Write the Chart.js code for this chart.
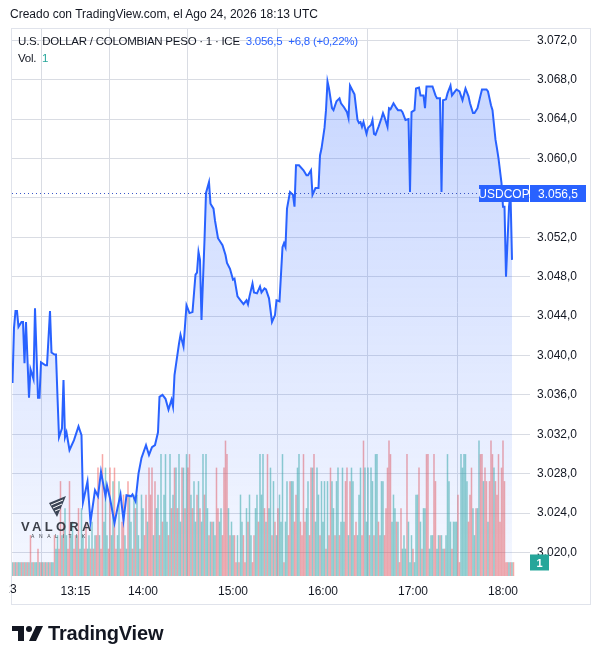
<!DOCTYPE html>
<html>
<head>
<meta charset="utf-8">
<script src="https://cdn.jsdelivr.net/npm/chart.js@4.4.1/dist/chart.umd.min.js"></script>
<style>
  html, body { margin: 0; padding: 0; background: #fff; }
  body { width: 598px; height: 664px; position: relative; overflow: hidden;
         font-family: 'Liberation Sans', Arial, sans-serif; color: #131722; }
  #frame { position: absolute; left: 11px; top: 28px; width: 578px; height: 575px; border: 1px solid #e0e3eb; }
  #wrap { position: absolute; left: 0; top: 0; width: 598px; height: 664px; }
  .stamp { position: absolute; left: 10px; top: 7px; font-size: 12px; }
  .legend { position: absolute; left: 18px; font-size: 11.5px; letter-spacing: -0.25px; white-space: nowrap; }
  .blue { color: #2962ff; }
  .teal { color: #26a69a; }
  .valora { position: absolute; left: 21px; top: 519px; font-size: 13px; font-weight: bold;
            letter-spacing: 3.3px; color: #3b3f48; }
  .analitik { position: absolute; left: 31px; top: 533px; font-size: 5px; letter-spacing: 4.6px; color: #3b3f48; }
  .brand { position: absolute; left: 48px; top: 622px; font-size: 20px; font-weight: bold; color: #131722; letter-spacing: -0.2px; }
</style>
</head>
<body>
<div id="frame"></div>
<div id="wrap"><canvas id="myChart"></canvas></div>

<div class="stamp">Creado con TradingView.com, el Ago 24, 2026 18:13 UTC</div>
<div class="legend" style="top:35px">U.S. DOLLAR / COLOMBIAN PESO · 1 · ICE&nbsp; <span class="blue">3.056,5&nbsp; +6,8 (+0,22%)</span></div>
<div class="legend" style="top:52px">Vol.&nbsp; <span class="teal">1</span></div>

<svg style="position:absolute;left:0;top:0" width="598" height="664">
  <!-- valora mark -->
  <polygon points="49,503 66,496 57,517" fill="#3b4556"/>
  <line x1="51" y1="505" x2="63" y2="500" stroke="#fff" stroke-width="1"/>
  <line x1="53" y1="508" x2="62" y2="504" stroke="#fff" stroke-width="1"/>
  <line x1="55" y1="511" x2="60" y2="509" stroke="#fff" stroke-width="1"/>
  <!-- tradingview mark -->
  <rect x="12" y="626" width="12" height="5" fill="#131722"/>
  <rect x="18" y="626" width="6" height="15" fill="#131722"/>
  <circle cx="29" cy="629" r="3" fill="#131722"/>
  <polygon points="36,626 43,626 36,641 29,641" fill="#131722"/>
</svg>
<div class="valora">VALORA</div>
<div class="analitik">ANALITIK</div>
<div class="brand">TradingView</div>

<script>
/* ~~~~~~~~~~ DATA ~~~~~~~~~~*/

// one bar per minute, index 0 = first bar on the left
const xTickIdx = [42, 87, 147, 207, 267, 327];
const xTickLabels = ['13:15', '14:00', '15:00', '16:00', '17:00', '18:00'];
const xEdgeIdx = -1.7;
const xEdgeLabel = '23';

const yTicks = [3020, 3024, 3028, 3032, 3036, 3040, 3044, 3048, 3052, 3056, 3060, 3064, 3068, 3072];
const yTickHidden = [3056];
const lastPrice = 3056.5;
const lastVolume = 1;
const symbol = 'USDCOP';

const priceIdx = [
  0, 1, 2, 3, 4, 6, 7, 8, 9, 11, 12, 14, 15, 17, 18, 19, 22, 23, 25, 26,
  28, 29, 30, 31, 33, 34, 35, 36, 38, 41, 44, 46, 47, 50, 52, 55, 57, 59, 62, 63,
  65, 68, 70, 72, 74, 76, 79, 80, 82, 84, 86, 89, 91, 93, 95, 97, 98, 100, 102, 104,
  106, 107, 108, 111, 112, 114, 116, 118, 120, 122, 123, 124, 125, 126, 128, 129, 131, 132, 134, 135,
  137, 140, 142, 143, 145, 147, 148, 150, 152, 154, 156, 157, 158, 160, 161, 163, 165, 166, 168, 169,
  171, 173, 175, 176, 178, 180, 181, 182, 183, 185, 187, 188, 189, 191, 194, 196, 197, 199, 200, 202,
  204, 205, 206, 208, 209, 210, 211, 213, 214, 216, 218, 219, 221, 223, 224, 225, 227, 228, 230, 231,
  232, 233, 234, 236, 237, 239, 240, 241, 242, 244, 246, 247, 248, 250, 251, 252, 254, 256, 257, 259,
  260, 262, 264, 265, 266, 268, 269, 271, 272, 274, 275, 276, 280, 282, 283, 285, 286, 287, 289, 290,
  292, 293, 295, 296, 298, 300, 302, 304, 305, 307, 308, 310, 312, 313, 316, 317, 319, 320, 322, 323,
  324, 326, 327, 328, 329, 331, 332, 333
];
const priceVal = [
  3037.2, 3042.8, 3044.5, 3044.5, 3042.9, 3043.4, 3043.4, 3039.2, 3043.4, 3035.7, 3038.6, 3037.6, 3044.8, 3035.7, 3035.7, 3039.3, 3039.0, 3039.0, 3044.5, 3040.3,
  3040.1, 3040.1, 3035.8, 3031.7, 3032.6, 3037.5, 3031.7, 3032.2, 3030.4, 3031.4, 3032.8, 3031.9, 3025.1, 3027.2, 3023.1, 3026.3, 3025.7, 3028.2, 3025.7, 3026.8,
  3025.5, 3023.0, 3024.5, 3025.9, 3023.3, 3025.8, 3025.7, 3025.9, 3025.2, 3028.0, 3029.6, 3030.9, 3029.9, 3030.7, 3030.9, 3032.2, 3035.8, 3036.0, 3035.6, 3034.5,
  3035.5, 3034.8, 3038.0, 3041.2, 3042.1, 3040.9, 3045.1, 3044.3, 3044.4, 3048.2, 3048.4, 3050.5, 3049.7, 3043.6, 3051.7, 3056.5, 3057.6, 3055.4, 3054.9, 3053.7,
  3051.9, 3051.2, 3050.2, 3049.4, 3048.8, 3047.7, 3047.8, 3046.0, 3045.6, 3045.2, 3045.6, 3045.2, 3046.0, 3047.3, 3046.4, 3046.3, 3047.0, 3046.4, 3046.8, 3046.7,
  3045.8, 3043.4, 3044.1, 3045.6, 3045.5, 3051.0, 3051.4, 3051.0, 3054.9, 3056.6, 3056.3, 3055.1, 3059.3, 3059.3, 3058.8, 3058.3, 3058.3, 3058.8, 3056.3, 3057.0,
  3057.0, 3060.3, 3061.0, 3063.1, 3064.9, 3067.8, 3067.1, 3065.1, 3064.9, 3065.8, 3066.1, 3065.6, 3065.2, 3064.7, 3064.1, 3067.4, 3066.8, 3066.5, 3063.9, 3063.6,
  3063.7, 3063.2, 3063.7, 3062.5, 3063.1, 3063.4, 3063.9, 3062.5, 3062.4, 3063.2, 3064.1, 3064.6, 3064.2, 3063.2, 3065.1, 3065.0, 3065.6, 3065.1, 3064.9, 3064.9,
  3064.7, 3063.9, 3064.0, 3056.6, 3064.7, 3064.9, 3067.1, 3067.2, 3066.4, 3066.4, 3065.1, 3067.3, 3067.3, 3066.4, 3066.1, 3066.1, 3056.6, 3065.9, 3066.0, 3066.6,
  3067.4, 3066.4, 3066.8, 3067.0, 3066.8, 3065.9, 3067.1, 3066.3, 3065.6, 3064.6, 3064.6, 3065.1, 3066.4, 3067.0, 3067.0, 3066.8, 3065.4, 3064.9, 3061.9, 3061.0,
  3060.0, 3057.5, 3055.1, 3055.1, 3048.0, 3055.1, 3056.5, 3049.7
];

// volume per minute bar, from index 0
const volVal = [
  1, 1, 1, 1, 1, 1, 1, 1, 1, 1,   1, 1, 3, 1, 1, 1, 1, 2, 1, 1,
  1, 1, 1, 1, 1, 1, 1, 1, 3, 2,   3, 2, 7, 3, 4, 5, 3, 2, 7, 3,
  4, 2, 3, 3, 5, 2, 5, 3, 2, 4,   2, 3, 2, 4, 2, 3, 3, 8, 3, 2,
  9, 4, 8, 3, 2, 8, 3, 7, 8, 2,   3, 7, 2, 4, 6, 3, 2, 7, 6, 4,
  2, 6, 5, 6, 3, 2, 6, 5, 3, 6,   4, 8, 6, 8, 3, 7, 5, 6, 3, 9,
  4, 6, 9, 4, 3, 9, 5, 6, 8, 8,   5, 9, 4, 8, 8, 5, 9, 8, 9, 6,
  5, 7, 4, 6, 7, 5, 4, 9, 6, 9,   5, 3, 4, 4, 4, 3, 8, 5, 4, 5,
  3, 8, 10, 9, 5, 3, 4, 3, 3, 1,  3, 1, 6, 4, 3, 1, 5, 4, 6, 3,
  1, 3, 5, 6, 4, 9, 6, 9, 5, 4,   9, 5, 8, 3, 7, 4, 3, 5, 6, 4,
  9, 1, 4, 7, 3, 7, 7, 7, 4, 6,   8, 9, 4, 3, 9, 4, 5, 7, 3, 8,
  8, 9, 4, 8, 6, 3, 7, 4, 7, 2,   7, 3, 8, 7, 5, 3, 7, 8, 3, 4,
  8, 4, 7, 8, 3, 7, 8, 7, 3, 4,   3, 6, 8, 3, 10, 8, 4, 8, 3, 8,
  7, 3, 9, 9, 4, 3, 7, 7, 3, 5,   8, 10, 9, 4, 6, 5, 4, 4, 1, 5,
  2, 3, 2, 9, 4, 1, 3, 2, 1, 6,   6, 8, 4, 2, 5, 5, 9, 9, 2, 3,
  3, 9, 7, 2, 3, 3, 3, 2, 2, 3,   9, 7, 4, 2, 4, 4, 4, 6, 1, 9,
  8, 9, 9, 7, 4, 6, 8, 5, 3, 5,   5, 10, 9, 9, 7, 8, 7, 4, 7, 10,
  9, 8, 7, 6, 9, 4, 8, 10, 7, 1,  1, 1, 1, 1, 1
];
// u = minute closed up (teal), d = closed down (red)
const volDir = [
  'u d u d u u d u d u', 'd u d u d u u d u d', 'u d u d u d u u d u', 'u d d u d u u d d u',
  'u d d u d u u u d d', 'u u d u d u d d u d', 'd u u u d d u u d d', 'u u d d d u u d u u',
  'd u d u u d u u d d', 'u d d d u d u u d u', 'd u u u d u d u d u', 'd u u d u d u d d u',
  'd u u d u d u u d u', 'u d u d u u d d u u', 'd d d d u d u u d d', 'u d u u d d u d u u',
  'd d u u d u u u d u', 'd u u d u d u d u u', 'u d u u d d u u d d', 'u u d d d d u u d d',
  'u d u u u d u u u d', 'u d d u u d u u d u', 'u u d d u d u u d d', 'u u u d d u u u d u',
  'u d u u d u u u d d', 'd d d u u u d u d d', 'u u u d u u u d u u', 'u d u d u u d d u u',
  'u d d u u d u u d u', 'u u u d u u u d d u', 'u u u u d d d u u d', 'u u d d u d d u d d',
  'd u d d d d d d d d', 'd u d u d'
].join(' ').split(' ');

/* ~~~~~~~~~~ HELPERS ~~~~~~~~~~*/

const fmtPrice = (v) => {
  const parts = v.toFixed(1).split('.');
  return parts[0].replace(/\B(?=(\d{3})+(?!\d))/g, '.') + ',' + parts[1];
};

const GRID = '#d9dce3';
const TEXT = '#131722';
const BLUE = '#2962ff';
const UP = 'rgba(38, 166, 154, 0.5)';
const DOWN = 'rgba(239, 83, 80, 0.5)';

const linePoints = priceIdx.map((x, i) => ({ x: x, y: priceVal[i] }));
const volPoints = volVal.map((v, i) => ({ x: i, y: v }));
const volColors = volDir.map((d) => (d === 'u' ? UP : DOWN));

/* ~~~~~~~~~~ OVERLAY PLUGIN ~~~~~~~~~~*/

const tvOverlay = {
  id: 'tvOverlay',
  afterDraw(chart) {
    const { ctx, chartArea, scales } = chart;
    const y = Math.round(scales.y.getPixelForValue(lastPrice)) + 0.5;
    const boxH = 17;
    const symW = 51;
    const priceW = 56;
    ctx.save();

    // dotted last price line
    ctx.strokeStyle = '#3a57c8';
    ctx.lineWidth = 1;
    ctx.setLineDash([1, 3]);
    ctx.beginPath();
    ctx.moveTo(chartArea.left, y);
    ctx.lineTo(chartArea.right - symW, y);
    ctx.stroke();
    ctx.setLineDash([]);

    // symbol and price boxes
    ctx.fillStyle = BLUE;
    ctx.fillRect(chartArea.right - symW, y - boxH / 2, symW - 1, boxH);
    ctx.fillRect(chartArea.right, y - boxH / 2, priceW, boxH);
    ctx.fillStyle = '#fff';
    ctx.font = '12px "Liberation Sans", Arial, sans-serif';
    ctx.textBaseline = 'middle';
    ctx.textAlign = 'center';
    ctx.fillText(symbol, chartArea.right - symW / 2 - 0.5, y + 1);
    ctx.fillText(fmtPrice(lastPrice), chartArea.right + priceW / 2, y + 1);

    // volume badge
    const vy = scales.yv.getPixelForValue(lastVolume);
    ctx.fillStyle = '#26a69a';
    ctx.fillRect(chartArea.right, vy - 8, 19, 16);
    ctx.fillStyle = '#fff';
    ctx.font = 'bold 11px "Liberation Sans", Arial, sans-serif';
    ctx.fillText(String(lastVolume), chartArea.right + 9.5, vy + 1);

    // clipped day label at the left edge
    const ex = scales.x.getPixelForValue(xEdgeIdx);
    ctx.beginPath();
    ctx.rect(ex - 1, chartArea.bottom, 40, 30);
    ctx.clip();
    ctx.fillStyle = TEXT;
    ctx.font = '12px "Liberation Sans", Arial, sans-serif';
    ctx.fillText(xEdgeLabel, ex, chartArea.bottom + 14);
    ctx.restore();
  },
};

/* ~~~~~~~~~~ CHART ~~~~~~~~~~*/

const chartCtx = document.getElementById('myChart').getContext('2d');

const usdcopChart = new Chart(chartCtx, {
  type: 'bar',
  data: {
    datasets: [
      {
        type: 'line',
        data: linePoints,
        borderColor: BLUE,
        borderWidth: 2,
        pointRadius: 0,
        tension: 0,
        fill: 'start',
        order: 0,
        backgroundColor: (c) => {
          const area = c.chart.chartArea;
          if (!area) return 'rgba(41, 98, 255, 0.15)';
          const g = c.chart.ctx.createLinearGradient(0, area.top, 0, area.bottom);
          g.addColorStop(0, 'rgba(41, 98, 255, 0.28)');
          g.addColorStop(1, 'rgba(41, 98, 255, 0.05)');
          return g;
        },
      },
      {
        type: 'bar',
        data: volPoints,
        yAxisID: 'yv',
        backgroundColor: volColors,
        borderWidth: 0,
        barThickness: 0.85,
        order: 1,
      },
    ],
  },
  options: {
    responsive: true,
    maintainAspectRatio: false,
    animation: false,
    layout: { padding: { left: 12, top: 29, right: 8, bottom: 61 } },
    plugins: { legend: { display: false }, tooltip: { enabled: false } },
    scales: {
      x: {
        type: 'linear',
        min: -0.33,
        max: 345,
        offset: false,
        afterBuildTicks: (s) => { s.ticks = xTickIdx.map((v) => ({ value: v })); },
        afterFit: (s) => { s.height = 27; },
        ticks: {
          autoSkip: false,
          maxRotation: 0,
          padding: 8,
          color: TEXT,
          font: { family: '"Liberation Sans", Arial, sans-serif', size: 12 },
          callback: (v) => xTickLabels[xTickIdx.indexOf(v)],
        },
        grid: { color: GRID, drawTicks: false },
        border: { display: false },
      },
      y: {
        position: 'right',
        min: 3017.61,
        max: 3073.14,
        afterBuildTicks: (s) => { s.ticks = yTicks.map((v) => ({ value: v })); },
        afterFit: (s) => { s.width = 60; },
        ticks: {
          padding: 7,
          color: TEXT,
          font: { family: '"Liberation Sans", Arial, sans-serif', size: 12 },
          callback: (v) => (yTickHidden.includes(v) ? '' : fmtPrice(v)),
        },
        grid: { color: GRID, drawTicks: false },
        border: { display: false },
      },
      yv: {
        display: false,
        min: 0,
        max: 40.5,
      },
    },
  },
  plugins: [tvOverlay],
});
</script>
</body>
</html>
